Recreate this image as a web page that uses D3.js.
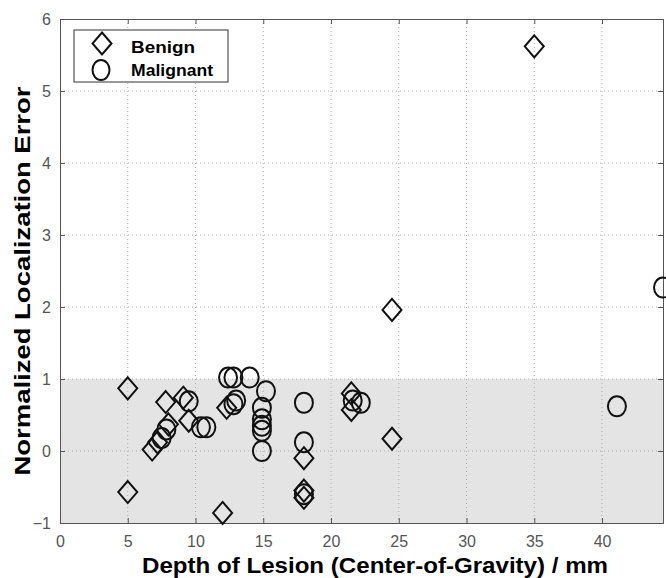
<!DOCTYPE html>
<html lang="en">
<head>
    <meta charset="UTF-8">
    <title>Localization Error vs Depth</title>
    <script src="https://d3js.org/d3.v7.min.js"></script>
    <style>
        body { margin: 0; background: #fff; }
        text { font-family: "Liberation Sans", Arial, sans-serif; }
    </style>
</head>
<body>
    <svg id="chart" width="666" height="578"></svg>
    <script>
    // Benign lesions (diamonds)
    const benignDepth = [5, 5, 12, 7.8, 9.1, 9.5, 8.0, 7.2, 6.8, 12.3, 18, 18, 18, 21.5, 21.5, 24.5, 24.5, 35];
    const benignError = [0.87, -0.57, -0.86, 0.68, 0.74, 0.42, 0.37, 0.12, 0.02, 0.6, -0.1, -0.55, -0.65, 0.8, 0.57, 1.96, 0.17, 5.62];
    // Malignant lesions (circles)
    const malignantDepth = [9.5, 7.85, 7.5, 10.4, 10.8, 12.4, 12.8, 14.0, 15.2, 12.8, 13.0, 14.9, 14.9, 14.9, 14.9, 14.9, 18, 18, 18, 21.6, 22.2, 41.1, 44.5];
    const malignantError = [0.69, 0.3, 0.18, 0.33, 0.33, 1.02, 1.02, 1.02, 0.83, 0.65, 0.7, 0.6, 0.44, 0.35, 0.28, 0.0, 0.67, 0.12, -0.6, 0.7, 0.67, 0.62, 2.27];

    const xTicks = [0, 5, 10, 15, 20, 25, 30, 35, 40];
    const yTicks = [-1, 0, 1, 2, 3, 4, 5, 6];
    const bandRange = [-1, 1];

    const svg = d3.select("#chart");
    const margin = { top: 19, right: 3, bottom: 55, left: 60 };
    const width = 666 - margin.left - margin.right;
    const height = 578 - margin.top - margin.bottom;

    const g = svg.append("g")
        .attr("transform", `translate(${margin.left},${margin.top})`);

    const x = d3.scaleLinear().domain([0, 44.5]).range([0, width]);
    const y = d3.scaleLinear().domain([-1, 6]).range([height, 0]);

    // shaded band
    g.append("rect")
        .attr("x", 0)
        .attr("y", y(bandRange[1]))
        .attr("width", width)
        .attr("height", y(bandRange[0]) - y(bandRange[1]))
        .attr("fill", "#e4e4e4");

    // dotted grid
    g.selectAll("line.vgrid")
        .data(xTicks.slice(1))
        .enter().append("line")
        .attr("class", "vgrid")
        .attr("x1", d => x(d)).attr("x2", d => x(d))
        .attr("y1", 0).attr("y2", height)
        .attr("stroke", "#aaa")
        .attr("stroke-dasharray", "1,3");

    g.selectAll("line.hgrid")
        .data(yTicks.slice(1, -1))
        .enter().append("line")
        .attr("class", "hgrid")
        .attr("x1", 0).attr("x2", width)
        .attr("y1", d => y(d)).attr("y2", d => y(d))
        .attr("stroke", "#aaa")
        .attr("stroke-dasharray", "1,3");

    // axes
    const fmt = d3.format("d");
    const xAxis = g.append("g")
        .attr("transform", `translate(0,${height})`)
        .call(d3.axisBottom(x).tickValues(xTicks).tickSize(-5).tickPadding(13).tickFormat(fmt));
    const xTop = g.append("g")
        .call(d3.axisTop(x).tickValues(xTicks).tickSize(-5).tickFormat(""));
    const yAxis = g.append("g")
        .call(d3.axisLeft(y).tickValues(yTicks).tickSize(-5).tickPadding(9).tickFormat(fmt));
    const yRight = g.append("g")
        .attr("transform", `translate(${width},0)`)
        .call(d3.axisRight(y).tickValues(yTicks).tickSize(-5).tickFormat(""));

    [xAxis, xTop, yAxis, yRight].forEach(a => {
        a.select(".domain").attr("stroke", "#555");
        a.selectAll(".tick line").attr("stroke", "#555");
        a.selectAll("text")
            .attr("font-size", 16)
            .attr("fill", "#555")
            .style("font-family", "'Liberation Sans', Arial, sans-serif");
    });

    // markers (picture is slightly stretched vertically)
    const benign = benignDepth.map((d, i) => ({ x: d, y: benignError[i] }));
    const malignant = malignantDepth.map((d, i) => ({ x: d, y: malignantError[i] }));

    const diamond = "M0,-11L9.5,0L0,11L-9.5,0Z";

    g.selectAll("ellipse.mal")
        .data(malignant)
        .enter().append("ellipse")
        .attr("class", "mal")
        .attr("cx", d => x(d.x))
        .attr("cy", d => y(d.y))
        .attr("rx", 9)
        .attr("ry", 10)
        .attr("fill", "none")
        .attr("stroke", "#111")
        .attr("stroke-width", 2);

    g.selectAll("path.ben")
        .data(benign)
        .enter().append("path")
        .attr("class", "ben")
        .attr("d", diamond)
        .attr("transform", d => `translate(${x(d.x)},${y(d.y)})`)
        .attr("fill", "none")
        .attr("stroke", "#111")
        .attr("stroke-width", 2);

    // legend
    const lg = g.append("g").attr("transform", "translate(14,11)");
    lg.append("rect")
        .attr("width", 154).attr("height", 52)
        .attr("fill", "#fff")
        .attr("stroke", "#333");
    lg.append("path")
        .attr("d", diamond)
        .attr("transform", "translate(28,13.5)")
        .attr("fill", "none").attr("stroke", "#111").attr("stroke-width", 2);
    lg.append("ellipse")
        .attr("cx", 27).attr("cy", 40).attr("rx", 8.5).attr("ry", 10)
        .attr("fill", "none").attr("stroke", "#111").attr("stroke-width", 2);
    lg.append("text").attr("x", 57).attr("y", 23)
        .attr("font-size", 17).attr("font-weight", "bold")
        .attr("textLength", 64).attr("lengthAdjust", "spacingAndGlyphs")
        .text("Benign");
    lg.append("text").attr("x", 57).attr("y", 46)
        .attr("font-size", 17).attr("font-weight", "bold")
        .attr("textLength", 82).attr("lengthAdjust", "spacingAndGlyphs")
        .text("Malignant");

    // axis titles
    svg.append("text")
        .attr("x", 375)
        .attr("y", 573)
        .attr("text-anchor", "middle")
        .attr("font-size", 22)
        .attr("font-weight", "bold")
        .attr("textLength", 466)
        .attr("lengthAdjust", "spacingAndGlyphs")
        .text("Depth of Lesion (Center-of-Gravity) / mm");

    svg.append("text")
        .attr("transform", "translate(30,281) rotate(-90)")
        .attr("text-anchor", "middle")
        .attr("font-size", 22)
        .attr("font-weight", "bold")
        .attr("textLength", 389)
        .attr("lengthAdjust", "spacingAndGlyphs")
        .text("Normalized Localization Error");
    </script>
</body>
</html>
